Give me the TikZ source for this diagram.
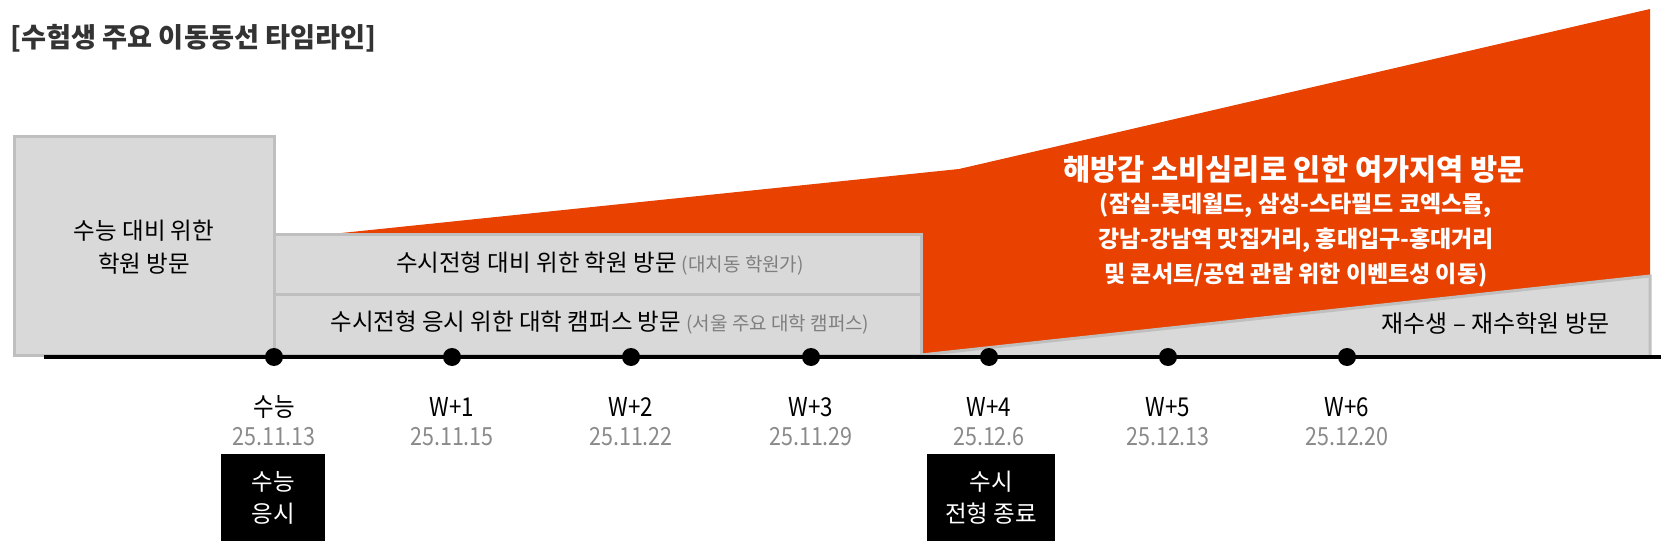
\documentclass[tikz,border=0pt]{standalone}
\usepackage{fontspec}
\setmainfont{Noto Sans CJK KR}
\newfontfamily\narrowfont[FakeStretch=0.86]{Noto Sans CJK KR}
\definecolor{orng}{HTML}{E84100}
\definecolor{boxg}{HTML}{D9D9D9}
\definecolor{boxl}{HTML}{BFBFBF}
\definecolor{ttl}{HTML}{333333}
\definecolor{dgray}{HTML}{8A8A8A}
\definecolor{pgray}{HTML}{7F7F7F}
\begin{document}
\begin{tikzpicture}[x=1pt,y=-1pt,
  graybox/.style={draw=boxl, line width=3pt, fill=boxg, inner sep=0pt, align=center},
  boxtext/.style={font=\fontsize{23.5}{33}\selectfont, text=black, align=center},
  tdot/.style={circle, fill=black, minimum size=18pt, inner sep=0pt},
  wlabel/.style={font=\narrowfont\fontsize{26}{30}\selectfont, text=black},
  dlabel/.style={font=\narrowfont\fontsize{25}{30}\selectfont, text=dgray},
  blackbox/.style={fill=black, text=white, align=center, inner sep=0pt, font=\fontsize{23.5}{32}\selectfont},
  otext/.style={text=white, font=\bfseries\fontsize{23}{35}\selectfont, align=center}
]
\useasboundingbox (0,0) rectangle (1680,553);

% title
\node[anchor=west, text=ttl, font=\bfseries\fontsize{27.2}{30}\selectfont] (title) at (7,38) {[수험생 주요 이동동선 타임라인]};

% orange region
\fill[orng] (274,240) -- (959,169) -- (1650,9) -- (1650,276) -- (921,355) -- (274,355) -- cycle;
% gray triangle
\fill[boxg] (921,355) -- (1650,276) -- (1650,355) -- cycle;
\draw[boxl, line width=3pt] (921,355) -- (1650,276) -- (1650,355);

% boxes
\node[graybox, minimum width=260pt, minimum height=218pt] (leftbox) at (144,246) {};
\node[boxtext] (lefttext) at (144,247) {수능 대비 위한\\학원 방문};
\node[graybox, minimum width=647pt, minimum height=59pt] (upbox) at (597.5,264.5) {};
\node[graybox, minimum width=647pt, minimum height=61pt] (lowbox) at (597.5,324.5) {};
\node[boxtext] (uptext) at (600,264) {수시전형 대비 위한 학원 방문 {\color{pgray}\fontsize{19}{22}\selectfont (대치동 학원가)}};
\node[boxtext] (lowtext) at (600,323) {수시전형 응시 위한 대학 캠퍼스 방문 {\color{pgray}\fontsize{19}{22}\selectfont (서울 주요 대학 캠퍼스)}};

% orange texts
\node[text=white, font=\bfseries\fontsize{29.5}{34}\selectfont] (otitle) at (1294,169) {해방감 소비심리로 인한 여가지역 방문};
\node[otext] (odetail) at (1296,240) {(잠실-롯데월드, 삼성-스타필드 코엑스몰,\\강남-강남역 맛집거리, 홍대입구-홍대거리\\및 콘서트/공연 관람 위한 이벤트성 이동)};

\node[anchor=east, font=\fontsize{24}{28}\selectfont, text=black] (jaesu) at (1613,323) {재수생 – 재수학원 방문};

% timeline
\coordinate (tlstart) at (44,357);
\coordinate (tlend) at (1661,357);
\draw[line width=4pt, black] (tlstart) -- (tlend);

\foreach \i/\x/\w/\d in {0/274/수능/25.11.13, 1/452/W+1/25.11.15, 2/631/W+2/25.11.22, 3/811/W+3/25.11.29, 4/989/W+4/25.12.6, 5/1168/W+5/25.12.13, 6/1347/W+6/25.12.20}{
  \node[tdot] (d\i) at (\x,357) {};
  \node[wlabel] (w\i) at (\x,407) {\w};
  \node[dlabel] (dt\i) at (\x,437) {\d};
}

\node[blackbox, minimum width=104pt, minimum height=87pt] (ev0) at (273,497.5) {수능\\응시};
\node[blackbox, minimum width=128pt, minimum height=87pt] (ev4) at (991,497.5) {수시\\전형 종료};
\end{tikzpicture}
\end{document}
